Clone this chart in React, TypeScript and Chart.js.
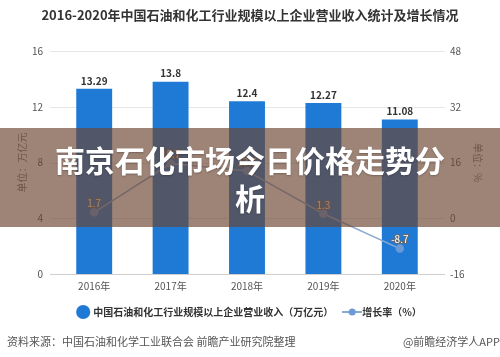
import React, { useEffect, useRef } from 'react';
import { Chart, registerables } from 'chart.js';

Chart.register(...registerables);

const categories = ['2016年', '2017年', '2018年', '2019年', '2020年'];
const revenue = [13.29, 13.8, 12.4, 12.27, 11.08];
const growth = [1.7, 15.7, 13.6, 1.3, -8.7];
const leftTicks = { min: 0, max: 16, step: 4 };
const rightTicks = { min: -16, max: 48, step: 16 };
const revenueLabel = '中国石油和化工行业规模以上企业营业收入（万亿元）';
const growthLabel = '增长率（%）';
const titleText = '2016-2020年中国石油和化工行业规模以上企业营业收入统计及增长情况';
const sourceText = '资料来源：中国石油和化学工业联合会 前瞻产业研究院整理';
const brandText = '@前瞻经济学人APP';
const bannerText = '南京石化市场今日价格走势分析';

const FONT = '"Noto Sans CJK SC", "Noto Sans", sans-serif';
const BAR_COLOR = '#1f7ad6';
const LINE_COLOR = '#8aa9cf';
const POINT_COLOR = '#6b9ad6';

function makeLineMarker(): HTMLCanvasElement {
  const c = document.createElement('canvas');
  c.width = 20;
  c.height = 10;
  const ctx = c.getContext('2d')!;
  ctx.strokeStyle = LINE_COLOR;
  ctx.lineWidth = 2;
  ctx.beginPath();
  ctx.moveTo(0, 5);
  ctx.lineTo(20, 5);
  ctx.stroke();
  ctx.fillStyle = POINT_COLOR;
  ctx.beginPath();
  ctx.arc(10, 5, 3.5, 0, Math.PI * 2);
  ctx.fill();
  return c;
}

const gridPlugin = {
  id: 'extGrid',
  beforeDatasetsDraw(chart: any) {
    const { ctx, chartArea, scales } = chart;
    const y = scales.y;
    ctx.save();
    ctx.lineWidth = 1;
    y.ticks.forEach((t: any) => {
      const py = Math.round(y.getPixelForValue(t.value)) + 0.5;
      ctx.strokeStyle = t.value === 0 ? '#cfcfcf' : '#e6e6e6';
      ctx.beginPath();
      ctx.moveTo(chartArea.left - 6, py);
      ctx.lineTo(chartArea.right + 7, py);
      ctx.stroke();
    });
    ctx.restore();
  },
};

const labelPlugin = {
  id: 'valueLabels',
  afterDatasetsDraw(chart: any) {
    const { ctx } = chart;
    ctx.save();
    ctx.textAlign = 'center';
    ctx.textBaseline = 'middle';
    const barMeta = chart.getDatasetMeta(0);
    ctx.font = `bold 10px ${FONT}`;
    ctx.fillStyle = '#333';
    barMeta.data.forEach((el: any, i: number) => {
      ctx.fillText(String(revenue[i]), el.x, el.y - 8);
    });
    const lineMeta = chart.getDatasetMeta(1);
    ctx.font = `10px ${FONT}`;
    ctx.lineJoin = 'round';
    lineMeta.data.forEach((el: any, i: number) => {
      const s = String(growth[i]);
      ctx.strokeStyle = '#6a6a6a';
      ctx.lineWidth = 2;
      ctx.strokeText(s, el.x, el.y - 9);
      ctx.fillStyle = '#ffffff';
      ctx.fillText(s, el.x, el.y - 9);
    });
    ctx.restore();
  },
};

export default function App() {
  const ref = useRef<HTMLCanvasElement>(null);

  useEffect(() => {
    if (!ref.current) return;
    const lineMarker = makeLineMarker();
    const chart = new Chart(ref.current, {
      type: 'bar',
      data: {
        labels: categories,
        datasets: [
          {
            type: 'bar',
            label: revenueLabel,
            data: revenue,
            backgroundColor: BAR_COLOR,
            barPercentage: 0.47,
            categoryPercentage: 1,
            yAxisID: 'y',
            order: 1,
          },
          {
            type: 'line',
            label: growthLabel,
            data: growth,
            borderColor: LINE_COLOR,
            borderWidth: 1.5,
            pointRadius: 3.5,
            pointBackgroundColor: POINT_COLOR,
            pointBorderColor: POINT_COLOR,
            tension: 0,
            yAxisID: 'y1',
            order: 0,
          } as any,
        ],
      },
      options: {
        responsive: false,
        animation: false,
        layout: { padding: { top: 51, left: 0, right: 0, bottom: 30 } },
        plugins: {
          title: { display: false },
          tooltip: { enabled: false },
          legend: {
            position: 'bottom',
            labels: {
              usePointStyle: true,
              boxHeight: 10,
              padding: 14,
              color: '#333',
              font: { family: FONT, size: 10, weight: 'bold' },
              generateLabels: (c: any) => {
                const items = (Chart.defaults.plugins.legend.labels as any)
                  .generateLabels(c)
                  .sort((a: any, b: any) => a.datasetIndex - b.datasetIndex);
                items.forEach((it: any) => {
                  if (it.datasetIndex === 0) {
                    it.pointStyle = 'circle';
                    it.fillStyle = BAR_COLOR;
                    it.strokeStyle = BAR_COLOR;
                  } else {
                    it.pointStyle = lineMarker;
                  }
                });
                return items;
              },
            },
          },
        },
        scales: {
          x: {
            grid: { display: false, drawTicks: false },
            border: { display: false },
            ticks: { color: '#555', padding: 6, font: { family: FONT, size: 10 } },
            afterFit: (s: any) => {
              s.height = 19;
            },
          },
          y: {
            position: 'left',
            min: leftTicks.min,
            max: leftTicks.max,
            grid: { display: false, drawTicks: false },
            border: { display: false },
            ticks: { stepSize: leftTicks.step, color: '#555', padding: 13, font: { family: FONT, size: 10 } },
            title: {
              display: true,
              text: '单位：万亿元',
              color: '#777',
              padding: { top: 16, bottom: 0 },
              font: { family: FONT, size: 10 },
            },
            afterFit: (s: any) => {
              s.width = 56;
            },
          },
          y1: {
            position: 'right',
            min: rightTicks.min,
            max: rightTicks.max,
            grid: { display: false, drawTicks: false },
            border: { display: false },
            ticks: { stepSize: rightTicks.step, color: '#555', padding: 12, font: { family: FONT, size: 10 } },
            title: {
              display: true,
              text: '单位：%',
              color: '#777',
              padding: { top: 16, bottom: 0 },
              font: { family: FONT, size: 10 },
            },
            afterFit: (s: any) => {
              s.width = 62;
            },
          },
        },
      } as any,
      plugins: [gridPlugin, labelPlugin],
    });
    return () => chart.destroy();
  }, []);

  return (
    <div style={{ position: 'absolute', left: 0, top: 0, width: 500, height: 357, background: '#fff', overflow: 'hidden', fontFamily: FONT }}>
      <canvas ref={ref} width={500} height={357} style={{ position: 'absolute', left: 0, top: 0 }} />
      <div style={{ position: 'absolute', top: 6, left: 0, width: 500, textAlign: 'center', fontSize: 13, lineHeight: '18px', fontWeight: 'bold', color: '#333' }}>
        {titleText}
      </div>
      <div style={{ position: 'absolute', top: 333, left: 7, fontSize: 11, lineHeight: '16px', color: '#555' }}>{sourceText}</div>
      <div style={{ position: 'absolute', top: 333, right: 0, fontSize: 11, lineHeight: '16px', color: '#555' }}>{brandText}</div>
      <div
        style={{
          position: 'absolute',
          top: 128,
          left: 0,
          width: 500,
          height: 99,
          boxSizing: 'border-box',
          padding: '0 50px',
          background: 'rgba(108,68,49,0.66)',
          display: 'flex',
          alignItems: 'center',
          justifyContent: 'center',
          textAlign: 'center',
          color: '#fff',
          fontSize: 30,
          lineHeight: '38px',
          fontWeight: 'bold',
          textShadow: '0 1px 2px rgba(0,0,0,0.25)',
        }}
      >
        {bannerText}
      </div>
    </div>
  );
}
